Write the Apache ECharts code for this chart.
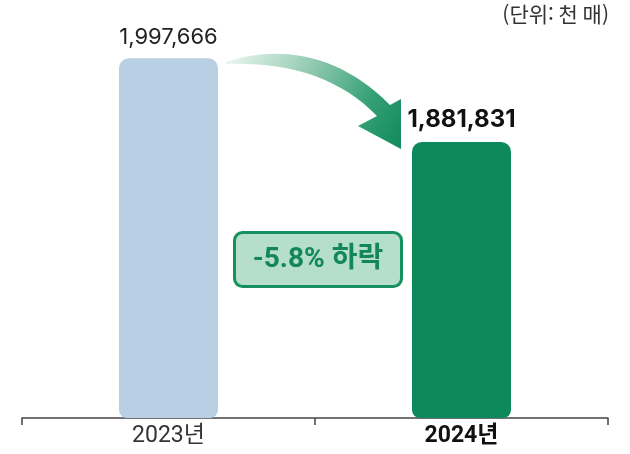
<!DOCTYPE html>
<html lang="ko">
<head>
    <meta charset="UTF-8">
    <title>발행 매수</title>
    <style type="text/css">
        body, html{width:100%;height:100%;margin:0;background:#fff;}
        #main{width:630px;height:454px;}
    </style>
    <script src="https://cdn.jsdelivr.net/npm/echarts@6/dist/echarts.min.js"></script>
</head>
<body>
<div id="main"></div>
<script type="text/javascript">
    // 데이터
    var years = ['2023년', '2024년'];
    var values = [1997666, 1881831];
    var barColors = ['#b9cfe3', '#0c8a5b'];
    var unitText = '(단위: 천 매)';
    var changeText = '-5.8% 하락';

    var numFont = 'Inter, "Noto Sans CJK KR", sans-serif';
    var korFont = '"Noto Sans CJK KR", sans-serif';
    var axisFont = '"Liberation Sans Narrow", Roboto, "Noto Sans CJK KR", sans-serif';

    // 감소 화살표 모양 등록
    var ArrowShape = echarts.graphic.extendPath(
        'M 226 62 C 280 44, 340 54, 390 105 L 401 99 L 401 149 L 358 126 L 377 116 C 340 78, 290 62, 226 64 Z', {}
    );
    echarts.graphic.registerShape('curveArrow', ArrowShape);

    var chart = echarts.init(document.getElementById('main'), null, {renderer: 'canvas'});

    var option = {
        animation: false,
        backgroundColor: '#fff',
        grid: {left: 22, right: 22, top: 40, bottom: 36},
        xAxis: {
            type: 'category',
            data: years,
            axisLine: {lineStyle: {color: '#444', width: 1.5}},
            axisTick: {show: true, length: 7, lineStyle: {color: '#444', width: 1.5}},
            axisLabel: {
                margin: 7,
                formatter: function (v, i) {
                    return i === 1 ? '{b|' + v + '}' : '{n|' + v + '}';
                },
                rich: {
                    n: {fontSize: 23, color: '#333', fontWeight: 'normal', fontFamily: axisFont},
                    b: {fontSize: 23, color: '#111', fontWeight: 'bold', fontFamily: axisFont}
                }
            }
        },
        yAxis: {
            type: 'value',
            min: 1500000,
            max: 2022800,
            show: false,
            splitLine: {show: false}
        },
        series: [{
            type: 'bar',
            barWidth: 99,
            data: values.map(function (v, i) {
                return {
                    value: v,
                    itemStyle: {color: barColors[i], borderRadius: [10, 10, 8, 8]},
                    label: i === 1 ? {fontWeight: 'bold', fontSize: 24, color: '#111', distance: 10}
                                   : {fontWeight: 'normal', fontSize: 22, color: '#222', distance: 10}
                };
            }),
            label: {
                show: true,
                position: 'top',
                fontFamily: numFont,
                formatter: function (p) {
                    return p.value.toLocaleString('en-US');
                }
            }
        }],
        graphic: [
            {
                type: 'text',
                right: 21,
                top: 4,
                style: {text: unitText, font: '21px ' + korFont, fill: '#333'}
            },
            {
                type: 'curveArrow',
                style: {
                    fill: new echarts.graphic.LinearGradient(0, 0, 1, 1, [
                        {offset: 0, color: '#eef8f3'},
                        {offset: 0.4, color: '#93cbb2'},
                        {offset: 0.75, color: '#34a074'},
                        {offset: 1, color: '#12895b'}
                    ])
                }
            },
            {
                type: 'group',
                left: 233,
                top: 231,
                children: [
                    {
                        type: 'rect',
                        shape: {x: 0, y: 0, width: 167, height: 54, r: 8},
                        style: {fill: '#b5dfca', stroke: '#17905f', lineWidth: 3}
                    },
                    {
                        type: 'text',
                        x: 83.5,
                        y: 27,
                        style: {
                            text: changeText,
                            font: 'bold 28px Roboto, "Noto Sans CJK KR", sans-serif',
                            fill: '#13875a',
                            align: 'center',
                            verticalAlign: 'middle'
                        }
                    }
                ]
            }
        ]
    };

    chart.setOption(option);
</script>
</body>
</html>
